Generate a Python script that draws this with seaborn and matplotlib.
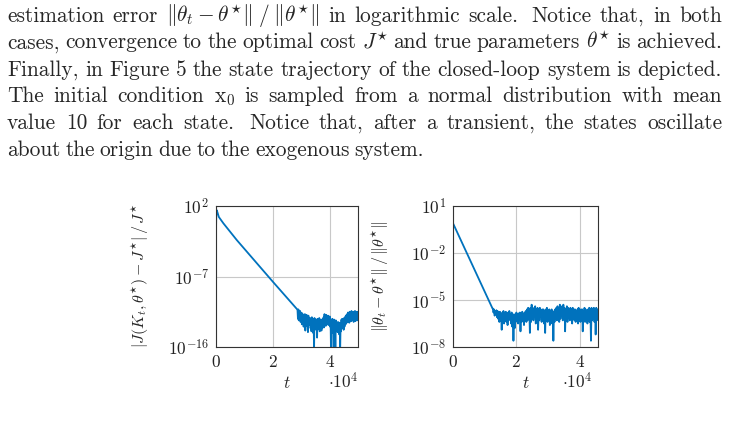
import numpy as np
import pandas as pd
import seaborn as sns
import matplotlib.pyplot as plt

# ---- data (t in units of 1e4, values as log10) ----
cost_t = [0, 0.01, 0.03, 0.10, 0.26, 0.73, 2.0, 2.86]
cost_log = [-1.2, 1.0, 1.45, 0.6, -0.21, -2.34, -7.66, -11.2]
cost_noise_span = (2.87, 5.0)
cost_noise_log = [
    -11.3, -12.4, -11.2, -12.6, -11.5, -12.2, -11.4, -12.8, -11.6,
    -12.0, -13.1, -11.7, -12.9, -11.9, -13.4, -12.1, -12.8, -11.8, -13.9,
    -12.2, -13.0, -11.9, -13.3, -12.3, -14.1, -12.0, -13.2, -12.4, -12.9,
    -12.3, -13.6, -12.5, -14.0, -12.2, -13.4, -12.6, -14.2, -12.4, -16.5, -12.3, -13.8, -12.7,
    -12.5, -13.6, -12.6, -14.8, -12.4, -13.7, -12.8, -13.5, -12.3, -14.0,
    -12.6, -13.4, -12.5, -13.9, -12.7, -13.6, -12.4, -13.2, -12.2, -13.5,
    -11.8, -13.0, -12.0, -13.3, -11.9, -12.8,
    -12.1, -13.0, -12.0, -13.2, -12.3, -12.9, -12.1, -13.4, -12.5, -16.5,
    -12.6, -14.2, -12.4, -13.8, -12.8, -16.5, -12.5, -14.0, -12.7, -16.5, -12.6, -13.9, -12.9,
    -13.0, -14.1, -12.8, -13.7, -13.1, -14.4, -12.9, -16.5, -13.0, -14.0,
    -12.5, -13.6, -12.4, -13.3, -12.6, -13.8, -12.3, -13.4, -12.2, -13.1, -12.0, -13.0, -11.9,
    -11.8, -12.8, -11.6, -12.6, -11.7, -12.9, -11.5, -12.5, -11.6, -12.7,
    -11.4, -12.6, -11.7, -12.4, -11.5, -12.8, -11.6, -12.5, -11.4, -12.7,
    -11.5, -12.4, -11.6, -12.6, -11.5, -12.3,
]

par_t = [0, 1.25]
par_log = [-0.1, -5.55]
par_noise_span = (1.26, 4.58)
par_noise_log = [
    -5.55, -5.8, -5.6, -6.0, -5.7, -5.9, -5.65, -6.1,
    -5.7, -6.2, -5.8, -6.4, -5.75, -6.1, -5.9, -6.9, -5.8, -6.3,
    -5.7, -6.5, -5.85, -6.2, -5.75, -6.4, -5.9, -6.6, -5.8, -6.3,
    -5.7, -6.2, -5.9, -6.5, -5.8, -6.7, -5.9,
    -7.6, -6.0, -6.8, -5.9,
    -6.4, -5.8, -6.3, -5.9, -6.5, -5.85, -6.2, -5.8, -7.0, -5.9,
    -6.4, -5.75, -6.3, -5.9, -6.6, -5.8, -6.2, -5.7, -6.4,
    -5.6, -6.3, -5.5, -6.2, -5.6, -7.1, -5.5, -6.4, -5.3, -6.1,
    -5.5, -6.3, -5.6, -6.0, -5.4, -6.5, -5.6, -6.2, -5.5, -6.9,
    -5.6, -6.3, -5.5, -6.1, -5.7, -6.4, -5.6,
    -6.2, -5.6, -6.5, -5.7, -7.1, -5.6, -6.3, -5.5, -6.4, -5.7,
    -6.2, -5.6, -6.6, -5.7, -6.3, -5.6, -6.5, -5.7, -7.6, -5.8,
    -6.4, -5.6,
    -6.2, -5.5, -6.3, -5.4, -6.1, -5.5, -6.4, -5.3, -6.2, -5.4,
    -6.0, -5.5, -6.3, -5.3, -6.1, -5.5, -7.0, -5.6, -6.2, -5.4,
    -6.4, -5.5, -6.1, -5.6, -6.3, -5.5, -6.2, -5.6, -6.5, -5.5,
    -6.1, -5.6,
    -6.3, -5.6, -6.4, -5.7, -6.2, -5.6, -6.5, -5.5, -6.3, -5.7,
    -6.4, -5.6, -6.2, -5.6, -7.0, -5.7, -6.3, -5.5, -6.4, -5.6,
    -6.2, -5.7, -6.5, -5.6, -6.3, -5.5, -6.4,
    -5.6, -7.6, -5.5, -6.3, -5.6, -6.2, -5.5, -6.4, -5.6, -7.2,
    -5.5, -6.3, -5.6, -6.1,
]

text_lines = [
    r"estimation error $\|\theta_t - \theta^{\star}\|\;/\;\|\theta^{\star}\|$ in logarithmic scale.  Notice that, in both",
    r"cases, convergence to the optimal cost $J^{\star}$ and true parameters $\theta^{\star}$ is achieved.",
    r"Finally, in Figure 5 the state trajectory of the closed-loop system is depicted.",
    r"The initial condition $\mathrm{x}_0$ is sampled from a normal distribution with mean",
    r"value 10 for each state.  Notice that, after a transient, the states oscillate",
    r"about the origin due to the exogenous system.",
]

sns.set_style("white")
plt.rcParams['font.family'] = ['cmr10', 'DejaVu Serif']
plt.rcParams['mathtext.fontset'] = 'cm'
plt.rcParams['axes.formatter.use_mathtext'] = True
plt.rcParams['axes.unicode_minus'] = False

blue = '#0072BD'

def series(t, lg, span, noise):
    tn = np.linspace(span[0], span[1], len(noise))
    df = pd.DataFrame({'t': list(t) + list(tn),
                       'v': np.power(10.0, list(lg) + list(noise))})
    return df

def words_of(line):
    # split on spaces, keep $...$ together, remember double spaces
    out, cur = [], ''
    for w in line.split(' '):
        if w == '' and cur == '':
            if out:
                out[-1] = (out[-1][0], 1.6)
            continue
        cur = w if cur == '' else cur + ' ' + w
        if cur.count('$') % 2 == 0:
            out.append((cur, 1.0))
            cur = ''
    return out

df_cost = series(cost_t, cost_log, cost_noise_span, cost_noise_log)
df_par = series(par_t, par_log, par_noise_span, par_noise_log)

W, H = 730, 434
fig = plt.figure(figsize=(7.3, 4.34), dpi=100)
renderer = fig.canvas.get_renderer()

# paragraph, justified between x0 and x1
x0, x1 = 7, 722
fs_text = 15.4
baselines = [22, 48.5, 75.5, 102, 129, 156]
for i, (line, yb) in enumerate(zip(text_lines, baselines)):
    words = words_of(line)
    items = [fig.text(0, 1 - yb / H, w, fontsize=fs_text, va='baseline', ha='left') for w, _ in words]
    widths = [t.get_window_extent(renderer).width for t in items]
    weights = [k for _, k in words[:-1]]
    last = i == len(text_lines) - 1
    unit = 5.0 if last else (x1 - x0 - sum(widths)) / sum(weights)
    x = x0
    for j, (t, w) in enumerate(zip(items, widths)):
        t.set_x(x / W)
        if j < len(weights):
            x += w + unit * weights[j]

def make_ax(left, right, top, bottom):
    return fig.add_axes([left / W, 1 - bottom / H, (right - left) / W, (bottom - top) / H])

ax1 = make_ax(216, 358, 206, 347)
ax2 = make_ax(453, 598, 206, 347)

sns.lineplot(data=df_cost, x='t', y='v', ax=ax1, color=blue, lw=1.3, sort=False, estimator=None)
sns.lineplot(data=df_par, x='t', y='v', ax=ax2, color=blue, lw=1.3, sort=False, estimator=None)

ax1.set_yscale('log')
ax1.set_xlim(0, 5.0)
ax1.set_ylim(1e-16, 1e2)
ax1.set_yticks([1e2, 1e-7, 1e-16])

ax2.set_yscale('log')
ax2.set_xlim(0, 4.58)
ax2.set_ylim(1e-8, 1e1)
ax2.set_yticks([1e1, 1e-2, 1e-5, 1e-8])

for ax in (ax1, ax2):
    ax.set_xticks([0, 2, 4])
    ax.set_xticklabels(['$0$', '$2$', '$4$'])
    ax.minorticks_off()
    ax.grid(True, color='#c8c8c8', lw=0.8)
    ax.set_axisbelow(True)
    for s in ax.spines.values():
        s.set_color('#333333')
        s.set_linewidth(0.8)
    ax.tick_params(direction='in', length=3, width=0.6, labelsize=12.5, pad=5, colors='#222222')
    ax.set_xlabel('$t$', fontsize=12.5, labelpad=4)
    ax.set_ylabel('')

fig.text(343 / W, 1 - 381 / H, r'$\cdot 10^4$', fontsize=12.5, ha='center', va='center')
fig.text(577 / W, 1 - 381 / H, r'$\cdot 10^4$', fontsize=12.5, ha='center', va='center')

fig.text(140 / W, 1 - 276 / H, r"$|J(K_t,\theta^{\star}) - J^{\star}|\,/\,J^{\star}$",
         fontsize=11.5, rotation=90, ha='center', va='center')
fig.text(380 / W, 1 - 276 / H, r"$\|\theta_t - \theta^{\star}\|\,/\,\|\theta^{\star}\|$",
         fontsize=11.5, rotation=90, ha='center', va='center')

fig.savefig('out.png', dpi=100)
